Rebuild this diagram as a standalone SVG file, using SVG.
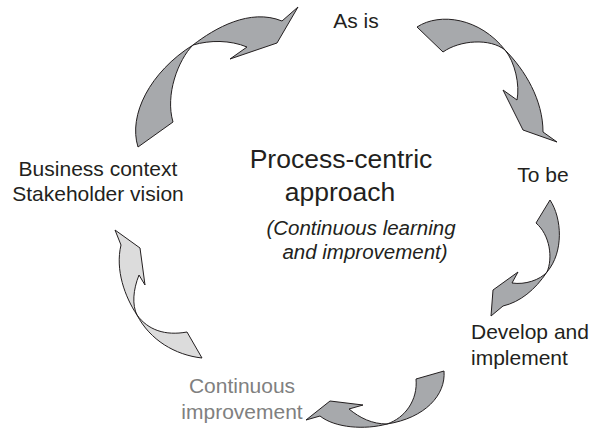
<svg xmlns="http://www.w3.org/2000/svg" width="590" height="432" viewBox="0 0 590 432">
<style>
.arrow{fill:#a7a9ac;stroke:#231f20;stroke-width:1;stroke-linejoin:miter}
.light{fill:#dcdcdc}
text{font-family:"Liberation Sans",Arial,sans-serif;fill:#231f20}
.lbl{font-size:21px}
.title{font-size:26.5px}
.sub{font-size:20.5px;font-style:italic}
.grey{fill:#808080}
</style>
<rect width="590" height="432" fill="#ffffff"/>
<g id="connectors">
<path id="arrow-context-asis" class="arrow" d="M138,147 C128,115 150,72 193,45 C215,28 250,8 282,21 L298,7 L277,43 L230,59 L247,47 C230,40 210,40 193,45 C178,60 165,95 173,122 Z"/>
<path id="arrow-asis-tobe" class="arrow" d="M417,27 C440,12 480,18 505,50 C525,70 543,100 543,132 L557,142 L523,130 L503,90 L517,100 C520,85 515,62 505,50 C490,38 460,40 443,52 Z"/>
<path id="arrow-tobe-develop" class="arrow" d="M550,200 C562,218 564,252 547,272 C535,290 520,302 503,306 L491,316 L493,290 L518,272 L512,283 C525,285 540,280 547,272 C553,258 550,235 536,223 Z"/>
<path id="arrow-develop-continuous" class="arrow" d="M444,371 C446,395 425,418 387,424 C365,430 335,428 320,416 L306,420 L330,401 L363,405 L349,409 C360,418 372,424 387,424 C405,418 418,400 416,379 Z"/>
<path id="arrow-continuous-context" class="arrow light" d="M115,230 L140,248 L145,285 L139,275 C133,290 132,305 137,315 C148,330 165,336 187,332 L202,358 C175,355 150,340 137,315 C125,297 115,270 121,245 Z"/>
</g>
<g id="node-center">
<text class="title" x="341" y="168" text-anchor="middle">Process-centric</text>
<text class="title" x="340" y="201" text-anchor="middle">approach</text>
<text class="sub" x="361" y="235" text-anchor="middle">(Continuous learning</text>
<text class="sub" x="365" y="258.5" text-anchor="middle">and improvement)</text>
</g>
<g id="node-asis"><text class="lbl" x="356" y="28" text-anchor="middle">As is</text></g>
<g id="node-tobe"><text class="lbl" x="543" y="182" text-anchor="middle">To be</text></g>
<g id="node-develop">
<text class="lbl" x="471" y="339">Develop and</text>
<text class="lbl" x="471" y="365">implement</text>
</g>
<g id="node-continuous">
<text class="lbl grey" x="242" y="393" text-anchor="middle">Continuous</text>
<text class="lbl grey" x="242" y="419" text-anchor="middle">improvement</text>
</g>
<g id="node-context">
<text class="lbl" x="98" y="176" text-anchor="middle">Business context</text>
<text class="lbl" x="98" y="201" text-anchor="middle">Stakeholder vision</text>
</g>
</svg>
